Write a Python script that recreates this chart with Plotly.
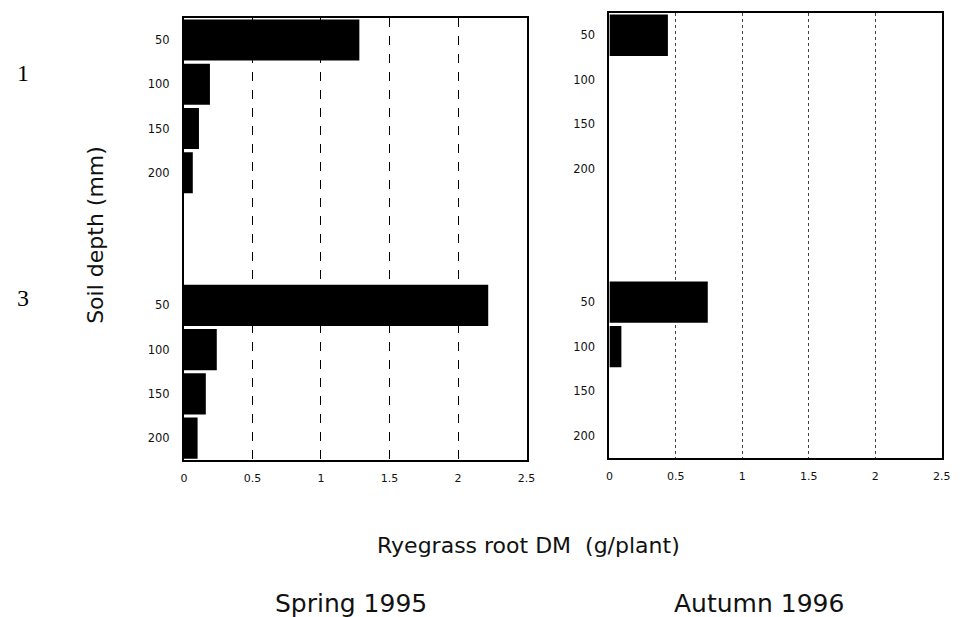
import plotly.graph_objects as go

depths = ["50", "100", "150", "200"]
groups = ["1", "3"]
spring_g1 = [1.28, 0.19, 0.11, 0.065]
spring_g3 = [2.22, 0.24, 0.16, 0.10]
autumn_g1 = [0.44, 0.0, 0.0, 0.0]
autumn_g3 = [0.74, 0.09, 0.0, 0.0]
x_ticks = [0, 0.5, 1, 1.5, 2, 2.5]
x_ticktext = ["0", "0.5", "1", "1.5", "2", "2.5"]
season_labels = ["Spring 1995", "Autumn 1996"]

keys_g1 = [f"{groups[0]}-{d}" for d in depths]
keys_g3 = [f"{groups[1]}-{d}" for d in depths]
cat_array = keys_g1 + ["gap-a", "gap-b"] + keys_g3

fig = go.Figure()
for vals1, vals3, xa, ya in [(spring_g1, spring_g3, "x", "y"), (autumn_g1, autumn_g3, "x2", "y2")]:
    fig.add_trace(go.Bar(
        x=vals1 + vals3, y=keys_g1 + keys_g3, orientation="h",
        marker=dict(color="black", line=dict(width=0)),
        xaxis=xa, yaxis=ya, showlegend=False,
    ))

yfont = dict(family="DejaVu Sans", size=11.5, color="#111")
xfont = dict(family="DejaVu Sans", size=11, color="#111")
xcommon = dict(range=[0, 2.5], tickvals=x_ticks, ticktext=x_ticktext, tickfont=xfont,
               showline=True, linecolor="black", linewidth=2, mirror=True,
               showgrid=True, gridcolor="black", gridwidth=1, griddash="dash",
               zeroline=False, ticks="", ticklabelstandoff=7, fixedrange=True)
ycommon = dict(type="category", categoryorder="array", categoryarray=cat_array,
               range=[9.5, -0.5], tickvals=keys_g1 + keys_g3, ticktext=depths + depths,
               tickfont=yfont, showline=True, linecolor="black", linewidth=2, mirror=True,
               showgrid=False, ticks="", ticklabelstandoff=10)

fig.update_layout(
    width=964, height=617, margin=dict(l=0, r=0, t=0, b=0),
    paper_bgcolor="white", plot_bgcolor="white", bargap=0.07,
    xaxis=dict(domain=[0.19, 0.55], anchor="y", **xcommon),
    yaxis=dict(domain=[0.254, 0.971], anchor="x", **ycommon),
    xaxis2=dict(domain=[0.637, 0.986], anchor="y2", **{**xcommon, "gridcolor": "#444", "griddash": "dot"}),
    yaxis2=dict(domain=[0.258, 0.979], anchor="x2", **ycommon),
)

serif = dict(family="Liberation Serif", size=24, color="black")
sans = dict(family="DejaVu Sans", color="#111")
ann = [
    dict(text=groups[0], x=20, y=73, font=serif, xa="center"),
    dict(text=groups[1], x=20, y=298, font=serif, xa="center"),
    dict(text="Soil depth (mm)", x=93, y=235, font={**sans, "size": 22}, textangle=-90, xa="center"),
    dict(text="Ryegrass root DM  (g/plant)", x=377, y=545, font={**sans, "size": 22}, xa="left"),
    dict(text=season_labels[0], x=273, y=603, font={**sans, "size": 25}, xa="left"),
    dict(text=season_labels[1], x=677, y=603, font={**sans, "size": 25}, xa="left"),
]
for a in ann:
    fig.add_annotation(text=a["text"], x=a["x"] / 964, y=1 - a["y"] / 617, xref="paper", yref="paper",
                       showarrow=False, font=a["font"], textangle=a.get("textangle", 0),
                       xanchor=a["xa"], yanchor="middle")

fig.write_html("out.html")
